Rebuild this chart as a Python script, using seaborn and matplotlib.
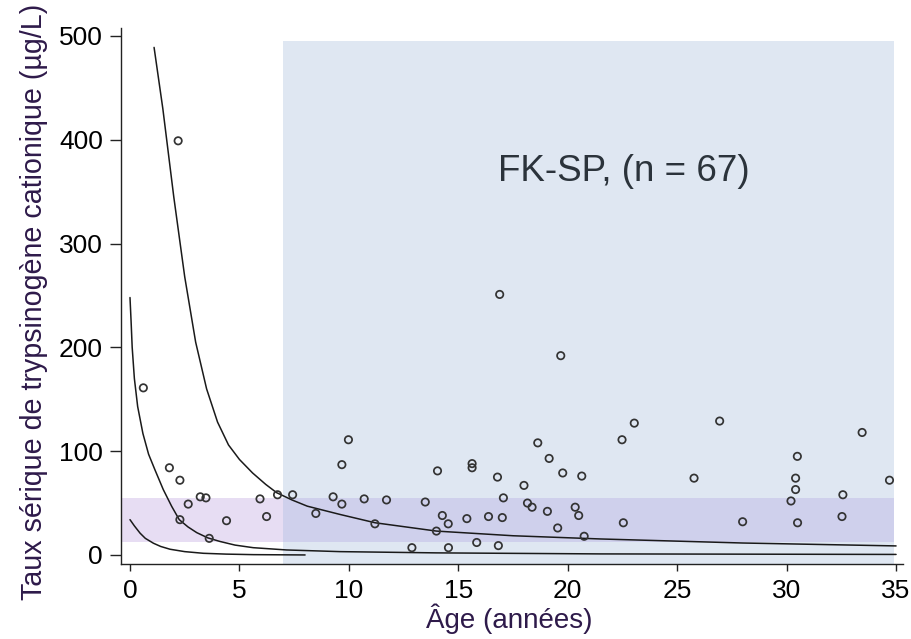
import matplotlib
matplotlib.use("Agg")
import matplotlib.pyplot as plt
import seaborn as sns
import pandas as pd

# Patients: age (years) and serum cationic trypsinogen (µg/L)
age = [0.61, 1.80, 2.20, 2.28, 2.28, 2.66, 3.21, 3.47, 3.62, 4.41, 5.94, 6.24, 6.74, 7.43, 8.49,
       9.28, 9.68, 9.68, 9.98, 10.70, 11.19, 11.72, 12.88, 13.49, 14.05, 14.00, 14.27, 14.54, 14.55,
       15.39, 15.63, 15.63, 15.84, 16.38, 16.79, 16.83, 16.89, 17.01, 17.06, 18.00, 18.16, 18.37,
       18.63, 19.07, 19.15, 19.54, 19.68, 19.77, 20.34, 20.50, 20.64, 20.75,
       22.48, 22.54, 23.04, 25.77, 26.94, 27.99, 30.20, 30.41, 30.41, 30.49, 30.50, 32.53, 32.57,
       33.45, 34.70]
trypsinogen = [161, 84, 399, 72, 34, 49, 56, 55, 16, 33, 54, 37, 58, 58, 40,
               56, 49, 87, 111, 54, 30, 53, 7, 51, 81, 23, 38, 30, 7,
               35, 88, 84, 12, 37, 75, 9, 251, 36, 55, 67, 50, 46,
               108, 42, 93, 26, 192, 79, 46, 38, 76, 18,
               111, 31, 127, 74, 129, 32, 52, 63, 74, 95, 31, 37, 58,
               118, 72]

# Reference curves (upper, middle, lower)
upper_age = [1.10, 1.5, 2.0, 2.5, 3.0, 3.5, 4.0, 4.5, 5.0, 5.6, 6.2, 6.7, 7.4, 8.1, 9.6, 11.2,
             14.0, 17.5, 21.5, 28.0, 35.0]
upper_val = [489, 430, 345, 268, 205, 160, 128, 106, 92, 79, 68, 60, 53, 47, 39, 31,
             23, 18.5, 15.4, 11.5, 8.7]
middle_age = [0.0, 0.05, 0.10, 0.20, 0.35, 0.59, 0.85, 1.14, 1.52, 1.90, 2.25, 2.65, 3.05,
              3.55, 4.11, 4.80, 5.63, 7.16, 9.6, 14.0, 21.5, 35.0]
middle_val = [248, 225, 200, 170, 143, 117, 97, 82, 63, 47, 34, 27, 21.5,
              16.5, 13, 9.5, 7, 4.8, 3.2, 2.0, 1.0, 0.5]
lower_age = [0.0, 0.2, 0.46, 0.7, 1.07, 1.4, 1.83, 2.5, 3.35, 4.4, 5.63, 8.0]
lower_val = [34, 28, 21, 16, 11.3, 8.2, 5.5, 3.2, 1.6, 0.8, 0.3, 0.0]

x_ticks = [0, 5, 10, 15, 20, 25, 30, 35]
y_ticks = [0, 100, 200, 300, 400, 500]

pts = pd.DataFrame({"age": age, "val": trypsinogen})
curves = pd.concat([
    pd.DataFrame({"age": upper_age, "val": upper_val, "curve": "upper"}),
    pd.DataFrame({"age": middle_age, "val": middle_val, "curve": "middle"}),
    pd.DataFrame({"age": lower_age, "val": lower_val, "curve": "lower"}),
])

sns.set_theme(style="white")
plt.rcParams["font.family"] = ["Liberation Sans", "DejaVu Sans"]

fig = plt.figure(figsize=(9.12, 6.39), dpi=100)
ax = fig.add_axes([0.1327, 0.1174, 0.8575, 0.8388])

XMIN, XMAX = -0.41, 35.32
YMIN, YMAX = -8.7, 507.7
ax.set_xlim(XMIN, XMAX)
ax.set_ylim(YMIN, YMAX)

# shaded regions
blue = "#dfe7f2"
ax.fill_between([7.0, 34.9], YMIN, 495, color=blue, lw=0, zorder=0)
ax.fill_between([XMIN, 7.0], 12, 55, color="#e7ddf3", lw=0, zorder=1)
ax.fill_between([7.0, 34.9], 12, 55, color="#cfd0ec", lw=0, zorder=1)

for name in ["upper", "middle", "lower"]:
    sns.lineplot(data=curves[curves["curve"] == name], x="age", y="val", ax=ax,
                 color="#1a1a1a", lw=1.1, sort=False, estimator=None, zorder=3)

sns.scatterplot(data=pts, x="age", y="val", ax=ax, marker="o", s=28,
                facecolors="none", edgecolor="#333333", linewidth=1.25, zorder=4)

ax.text(16.8, 369, "FK-SP, (n = 67)", fontsize=26.5, color="#2b333b",
        ha="left", va="center", zorder=5)

ax.set_xticks(x_ticks)
ax.set_yticks(y_ticks)
ax.tick_params(axis="y", which="major", left=True, length=8, width=1.0, pad=5,
               labelsize=19, colors="#222222", labelcolor="black")
ax.tick_params(axis="x", which="major", bottom=True, length=5, width=1.0, pad=6,
               labelsize=19, colors="#222222", labelcolor="black")

for side in ["top", "right"]:
    ax.spines[side].set_visible(False)
for side in ["left", "bottom"]:
    ax.spines[side].set_color("#222222")
    ax.spines[side].set_linewidth(1.0)

label_color = "#2e1a4a"
ax.set_xlabel("Âge (années)", fontsize=20, color=label_color)
ax.set_ylabel("Taux sérique de trypsinogène cationique (µg/L)", fontsize=20.6, color=label_color)
ax.xaxis.set_label_coords(0.496, -0.074)
ax.yaxis.set_label_coords(-0.094, 0.489)

fig.savefig("out.png", dpi=100)
